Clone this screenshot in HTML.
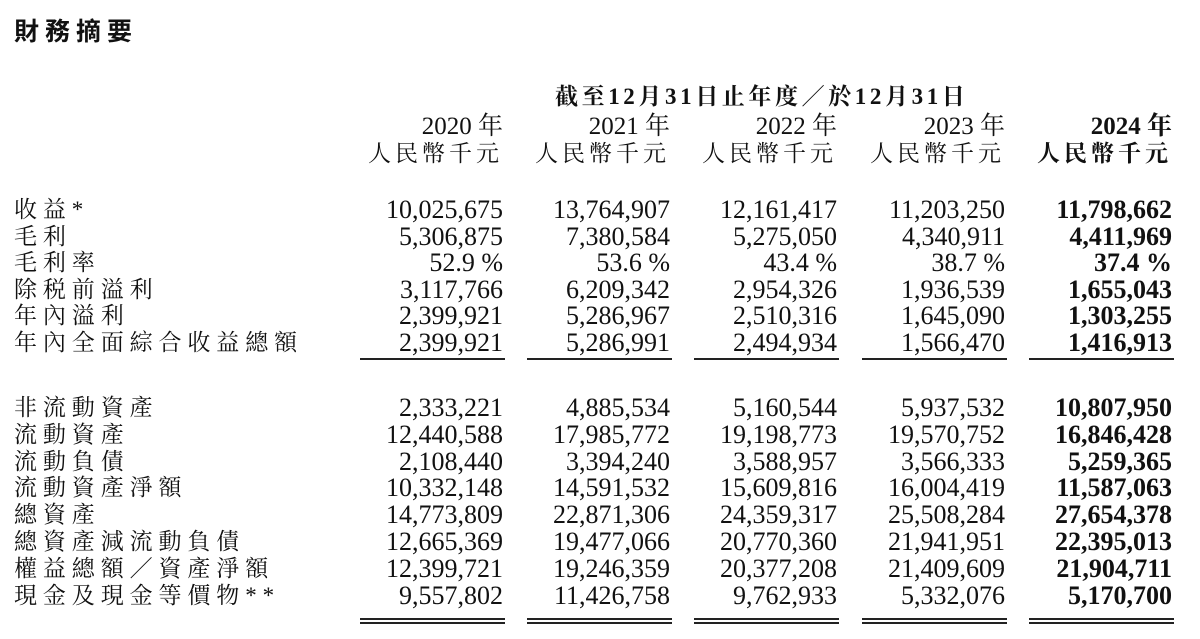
<!DOCTYPE html>
<html><head><meta charset="utf-8"><style>
body{margin:0;width:1200px;height:639px;background:#fff;position:relative;overflow:hidden;color:#111;font-family:"Liberation Serif","Noto Serif CJK SC",serif;}
.a{position:absolute;white-space:nowrap;line-height:1;}
.t{left:14px;top:20px;font-family:"Liberation Sans","Noto Sans CJK TC",sans-serif;font-weight:bold;font-size:25px;letter-spacing:6px;}
.lab{left:14px;font-size:23px;letter-spacing:5.9px;font-family:"Liberation Serif","Noto Serif CJK SC",serif;}
.n{font-size:26px;text-align:right;width:170px;}
.b{font-weight:bold;}
.ul{position:absolute;height:2px;background:#222;}
</style></head><body>
<div class="a t">財務摘要</div>
<div class="a b" style="left:555px;top:85px;font-size:23px;letter-spacing:3.6px;">截至12月31日止年度／於12月31日</div>
<div id="c"></div>
<script>
var rights=[503,670,837,1005,1172];
var years=["2020 年","2021 年","2022 年","2023 年","2024 年"];
var h='';
for(var i=0;i<5;i++){
 var bold=i==4?' b':'';
 h+='<div class="a n'+bold+'" style="left:'+(rights[i]-170)+'px;top:114px;font-size:25px">'+years[i]+'</div>';
 h+='<div class="a n'+bold+'" style="left:'+(rights[i]-200)+'px;width:200px;top:142px;font-size:23px;letter-spacing:4px;margin-right:-4px">人民幣千元</div>';
}
var rows=[
["收益*",209,["10,025,675","13,764,907","12,161,417","11,203,250","11,798,662"]],
["毛利",236,["5,306,875","7,380,584","5,275,050","4,340,911","4,411,969"]],
["毛利率",262,["52.9 %","53.6 %","43.4 %","38.7 %","37.4 %"]],
["除税前溢利",289,["3,117,766","6,209,342","2,954,326","1,936,539","1,655,043"]],
["年內溢利",315,["2,399,921","5,286,967","2,510,316","1,645,090","1,303,255"]],
["年內全面綜合收益總額",342,["2,399,921","5,286,991","2,494,934","1,566,470","1,416,913"]],
["非流動資產",407,["2,333,221","4,885,534","5,160,544","5,937,532","10,807,950"]],
["流動資產",434,["12,440,588","17,985,772","19,198,773","19,570,752","16,846,428"]],
["流動負債",461,["2,108,440","3,394,240","3,588,957","3,566,333","5,259,365"]],
["流動資產淨額",487,["10,332,148","14,591,532","15,609,816","16,004,419","11,587,063"]],
["總資產",514,["14,773,809","22,871,306","24,359,317","25,508,284","27,654,378"]],
["總資產減流動負債",541,["12,665,369","19,477,066","20,770,360","21,941,951","22,395,013"]],
["權益總額／資產淨額",568,["12,399,721","19,246,359","20,377,208","21,409,609","21,904,711"]],
["現金及現金等價物**",595,["9,557,802","11,426,758","9,762,933","5,332,076","5,170,700"]]
];
rows.forEach(function(r){
 var y=r[1]-12;
 h+='<div class="a lab" style="top:'+(y+1)+'px">'+r[0]+'</div>';
 for(var i=0;i<5;i++){
  h+='<div class="a n'+(i==4?' b':'')+'" style="left:'+(rights[i]-170)+'px;top:'+y+'px">'+r[2][i]+'</div>';
 }
});
for(var i=0;i<5;i++){
 var l=rights[i]-143,w=145;
 h+='<div class="ul" style="left:'+l+'px;width:'+w+'px;top:358px"></div>';
 h+='<div class="ul" style="left:'+l+'px;width:'+w+'px;top:618px"></div>';
 h+='<div class="ul" style="left:'+l+'px;width:'+w+'px;top:622px"></div>';
}
document.getElementById('c').innerHTML=h;
</script>
</body></html>
